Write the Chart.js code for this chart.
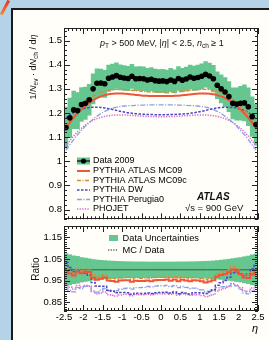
<!DOCTYPE html>
<html>
<head>
<meta charset="utf-8">
<script src="https://cdn.jsdelivr.net/npm/chart.js@4.4.1/dist/chart.umd.min.js"></script>
<style>
body { margin: 0; background: #b5d3e6; }
#wrap { position: relative; width: 269px; height: 340px; overflow: hidden; background: #b5d3e6; font-family: "Liberation Sans", Arial, sans-serif; }
#panel { position: absolute; left: 11px; top: 8px; width: 270px; height: 340px; background: #fffef9; border-left: 2px solid #1b1b1b; border-top: 2px solid #1b1b1b; }
#streak { position: absolute; left: -3px; top: 6px; width: 16px; height: 3px; background: linear-gradient(90deg, #f08a30, #e8302a); transform: rotate(-62deg); }
canvas { position: absolute; left: 0; }
.t { position: absolute; white-space: nowrap; color: #111; line-height: 12px; }
.t sub { font-size: 6.5px; vertical-align: -2px; line-height: 0; }
</style>
</head>
<body>
<div id="wrap">
  <div id="panel"></div>
  <div id="streak"></div>
  <canvas id="mainChart" width="269" height="227" style="top:0"></canvas>
  <canvas id="ratioChart" width="269" height="140" style="top:200px"></canvas>
  <div class="t" style="left:-17px;top:61px;width:100px;text-align:center;font-size:9px;transform:rotate(-90deg);">1/<i>N</i><sub>ev</sub> · d<i>N</i><sub>ch</sub> / d<i>η</i></div>
  <div class="t" style="left:-14px;top:263px;width:100px;text-align:center;font-size:10px;transform:rotate(-90deg);">Ratio</div>
  <div class="t" style="left:100px;top:37px;font-size:9px;"><i>p</i><sub>T</sub> &gt; 500 MeV, |<i>η</i>| &lt; 2.5, <i>n</i><sub>ch</sub> ≥ 1</div>
  <div class="t" style="left:197px;top:191px;font-size:10px;font-weight:bold;font-style:italic;">ATLAS</div>
  <div class="t" style="left:185px;top:202px;font-size:9.5px;">√s = 900 GeV</div>
</div>
<script>
// eta bin centres (bin width 0.1)
const etaBins = [-2.45,-2.35,-2.25,-2.15,-2.05,-1.95,-1.85,-1.75,-1.65,-1.55,
  -1.45,-1.35,-1.25,-1.15,-1.05,-0.95,-0.85,-0.75,-0.65,-0.55,
  -0.45,-0.35,-0.25,-0.15,-0.05,0.05,0.15,0.25,0.35,0.45,
  0.55,0.65,0.75,0.85,0.95,1.05,1.15,1.25,1.35,1.45,
  1.55,1.65,1.75,1.85,1.95,2.05,2.15,2.25,2.35,2.45];

const etaTicks = [-2.5,-2,-1.5,-1,-0.5,0,0.5,1,1.5,2,2.5];
const mainTicks = [0.8,0.9,1,1.1,1.2,1.3,1.4,1.5];
const ratioTicks = [0.85,0.9,0.95,1,1.05,1.1,1.15];

const data2009 = [1.140,1.180,1.213,1.210,1.235,1.240,1.255,1.300,1.323,1.324,
  1.321,1.344,1.349,1.355,1.348,1.345,1.343,1.352,1.342,1.343,
  1.342,1.337,1.340,1.334,1.332,1.333,1.330,1.337,1.331,1.343,
  1.336,1.341,1.349,1.344,1.347,1.352,1.360,1.353,1.342,1.315,
  1.300,1.287,1.268,1.240,1.237,1.240,1.242,1.226,1.185,1.152];

// total uncertainty on the data (absolute)
const dataErr = [0.085,0.082,0.078,0.075,0.070,0.067,0.064,0.062,0.060,0.058,
  0.056,0.055,0.054,0.053,0.052,0.051,0.050,0.050,0.049,0.049,
  0.049,0.048,0.048,0.048,0.048,0.048,0.048,0.048,0.048,0.049,
  0.049,0.049,0.050,0.050,0.051,0.052,0.053,0.054,0.055,0.056,
  0.058,0.060,0.062,0.064,0.067,0.070,0.075,0.078,0.082,0.085];

const pythiaMC09 = [1.135,1.160,1.181,1.199,1.215,1.229,1.242,1.253,1.262,1.269,
  1.274,1.278,1.280,1.281,1.281,1.280,1.279,1.277,1.275,1.274,
  1.272,1.271,1.270,1.270,1.270,1.270,1.270,1.270,1.271,1.272,
  1.274,1.275,1.277,1.279,1.280,1.281,1.281,1.280,1.278,1.274,
  1.269,1.262,1.253,1.242,1.229,1.214,1.198,1.180,1.159,1.136];

const pythiaMC09c = [1.145,1.172,1.195,1.214,1.231,1.246,1.259,1.270,1.279,1.286,
  1.291,1.295,1.297,1.298,1.298,1.297,1.296,1.294,1.292,1.291,
  1.289,1.288,1.287,1.287,1.287,1.287,1.287,1.287,1.288,1.289,
  1.291,1.292,1.294,1.296,1.297,1.298,1.298,1.297,1.295,1.291,
  1.286,1.279,1.270,1.259,1.246,1.230,1.213,1.194,1.171,1.146];

const pythiaDW = [1.178,1.192,1.202,1.210,1.216,1.220,1.223,1.224,1.224,1.223,
  1.221,1.218,1.215,1.211,1.207,1.204,1.201,1.199,1.197,1.196,
  1.195,1.194,1.194,1.193,1.193,1.193,1.193,1.194,1.194,1.195,
  1.196,1.197,1.199,1.201,1.204,1.207,1.211,1.215,1.218,1.221,
  1.223,1.224,1.224,1.223,1.220,1.216,1.210,1.202,1.191,1.176];

const pythiaPerugia0 = [1.045,1.068,1.090,1.110,1.128,1.145,1.160,1.174,1.187,1.198,
  1.207,1.214,1.220,1.224,1.227,1.229,1.230,1.231,1.232,1.233,
  1.233,1.234,1.234,1.234,1.234,1.234,1.234,1.234,1.234,1.233,
  1.233,1.232,1.231,1.230,1.229,1.227,1.224,1.220,1.214,1.207,
  1.198,1.187,1.174,1.160,1.145,1.128,1.110,1.090,1.068,1.046];

const phojet = [1.062,1.085,1.105,1.122,1.137,1.150,1.161,1.170,1.177,1.182,
  1.186,1.189,1.191,1.192,1.192,1.192,1.191,1.190,1.189,1.188,
  1.187,1.186,1.186,1.185,1.185,1.185,1.185,1.186,1.186,1.187,
  1.188,1.189,1.190,1.191,1.192,1.192,1.192,1.191,1.189,1.186,
  1.182,1.177,1.170,1.161,1.150,1.137,1.122,1.105,1.085,1.063];

const mcLabels = ['PYTHIA ATLAS MC09', 'PYTHIA ATLAS MC09c', 'PYTHIA DW', 'PYTHIA Perugia0', 'PHOJET'];
const mcValues = [pythiaMC09, pythiaMC09c, pythiaDW, pythiaPerugia0, phojet];
const unityLine = [1, 1];

const mcStyles = [
  { color: '#f0553a', width: 2, dash: [] },
  { color: '#d68a34', width: 1.4, dash: [4, 1.5, 1, 1.5] },
  { color: '#4b45c6', width: 1.5, dash: [2.5, 1.5] },
  { color: '#8d9fe4', width: 1.3, dash: [5, 1.5, 1.2, 1.5] },
  { color: '#e06acb', width: 1.5, dash: [1.3, 1.3] }
];
const bandColor = '#66c690';
const fontName = '"Liberation Sans", Arial, sans-serif';

// frame + inward ROOT-style ticks on all four sides
const frameTicks = {
  id: 'frameTicks',
  afterDatasetsDraw(chart, args, opts) {
    const { ctx, chartArea: a, scales: { x, y } } = chart;
    ctx.save();
    ctx.strokeStyle = '#222';
    ctx.lineWidth = 1;
    ctx.setLineDash([]);
    ctx.strokeRect(Math.round(a.left) + 0.5, Math.round(a.top) + 0.5, Math.round(a.right - a.left) - 1, Math.round(a.bottom - a.top) - 1);
    ctx.beginPath();
    const nx = Math.round((x.max - x.min) / 0.1);
    for (let k = 0; k <= nx; k++) {
      const v = x.min + k * 0.1;
      const major = etaTicks.some(t => Math.abs(t - v) < 1e-6);
      const len = major ? 6 : 3;
      const px = Math.round(x.getPixelForValue(v)) + 0.5;
      ctx.moveTo(px, a.bottom); ctx.lineTo(px, a.bottom - len);
      ctx.moveTo(px, a.top); ctx.lineTo(px, a.top + len);
    }
    const step = opts.yMinor;
    const start = Math.ceil(y.min / step - 1e-6);
    const end = Math.floor(y.max / step + 1e-6);
    for (let k = start; k <= end; k++) {
      const v = k * step;
      const major = opts.majorY.some(t => Math.abs(t - v) < 1e-6);
      const len = major ? 6 : 3;
      const py = Math.round(y.getPixelForValue(v)) + 0.5;
      ctx.moveTo(a.left, py); ctx.lineTo(a.left + len, py);
      ctx.moveTo(a.right, py); ctx.lineTo(a.right - len, py);
    }
    ctx.stroke();
    ctx.restore();
  }
};

const mainLegend = {
  id: 'mainLegend',
  afterDraw(chart) {
    const ctx = chart.ctx;
    const x0 = 77, x1 = 90, tx = 93;
    const rows = [161, 171, 180.5, 190, 199.5, 209];
    ctx.save();
    ctx.font = '9px ' + fontName;
    ctx.textBaseline = 'middle';
    ctx.fillStyle = bandColor;
    ctx.fillRect(x0, rows[0] - 3.5, x1 - x0, 7);
    ctx.strokeStyle = '#000';
    ctx.lineWidth = 1.2;
    ctx.beginPath(); ctx.moveTo(x0, rows[0]); ctx.lineTo(x1, rows[0]); ctx.stroke();
    ctx.fillStyle = '#000';
    ctx.beginPath(); ctx.arc((x0 + x1) / 2, rows[0], 2.6, 0, Math.PI * 2); ctx.fill();
    ctx.fillText('Data 2009', tx, rows[0]);
    mcLabels.forEach((lab, i) => {
      const s = mcStyles[i];
      ctx.strokeStyle = s.color;
      ctx.lineWidth = s.width;
      ctx.setLineDash(s.dash);
      ctx.beginPath(); ctx.moveTo(x0, rows[i + 1]); ctx.lineTo(x1, rows[i + 1]); ctx.stroke();
      ctx.setLineDash([]);
      ctx.fillStyle = '#000';
      ctx.fillText(lab, tx, rows[i + 1]);
    });
    ctx.restore();
  }
};

const ratioLegend = {
  id: 'ratioLegend',
  afterDraw(chart) {
    const ctx = chart.ctx;
    const top = 200;
    ctx.save();
    ctx.font = '9.3px ' + fontName;
    ctx.textBaseline = 'middle';
    ctx.fillStyle = bandColor;
    ctx.fillRect(109, 238 - top - 3, 9, 6);
    ctx.strokeStyle = '#222';
    ctx.lineWidth = 1.2;
    ctx.setLineDash([1.3, 1.3]);
    ctx.beginPath(); ctx.moveTo(108, 250 - top); ctx.lineTo(118, 250 - top); ctx.stroke();
    ctx.setLineDash([]);
    ctx.fillStyle = '#000';
    ctx.fillText('Data Uncertainties', 122.5, 238 - top);
    ctx.fillText('MC / Data', 122.5, 250 - top);
    ctx.restore();
  }
};

const tickFont = { family: fontName, size: 9.5 };

// main panel
const mainDatasets = [
  {
    type: 'scatter', label: 'Data 2009',
    data: etaBins.map((x, i) => ({ x, y: data2009[i] })),
    pointRadius: 2.8, pointBackgroundColor: '#000', pointBorderWidth: 0
  }
];
mcLabels.forEach((lab, i) => {
  mainDatasets.push({
    type: 'line', label: lab,
    data: etaBins.map((x, k) => ({ x, y: mcValues[i][k] })),
    borderColor: mcStyles[i].color, borderWidth: mcStyles[i].width, borderDash: mcStyles[i].dash,
    pointRadius: 0, cubicInterpolationMode: 'monotone', fill: false
  });
});
mainDatasets.push({
  type: 'bar', label: 'band',
  data: etaBins.map((x, i) => ({ x, y: [data2009[i] - dataErr[i], data2009[i] + dataErr[i]] })),
  backgroundColor: bandColor, borderWidth: 0, barPercentage: 1, categoryPercentage: 1
});

new Chart(document.getElementById('mainChart'), {
  type: 'scatter',
  data: { datasets: mainDatasets },
  options: {
    responsive: false, animation: false, devicePixelRatio: 1,
    layout: { padding: { top: 28, right: 11, left: 0, bottom: 0 } },
    plugins: {
      legend: { display: false }, tooltip: { enabled: false },
      frameTicks: { yMinor: 0.02, majorY: mainTicks }
    },
    scales: {
      x: {
        type: 'linear', min: -2.5, max: 2.5, offset: false,
        grid: { display: false, drawTicks: false }, border: { display: false },
        ticks: { display: false },
        afterFit: s => { s.height = 0; }
      },
      y: {
        min: 0.76, max: 1.552,
        grid: { display: false, drawTicks: false }, border: { display: false },
        afterBuildTicks: s => { s.ticks = mainTicks.map(v => ({ value: v })); },
        ticks: { padding: 2, color: '#000', font: tickFont, callback: v => String(v) },
        afterFit: s => { s.width = 64; }
      }
    }
  },
  plugins: [frameTicks, mainLegend]
});

// ratio panel
const ratioDatasets = [];
mcLabels.forEach((lab, i) => {
  ratioDatasets.push({
    type: 'line', label: lab,
    data: etaBins.map((x, k) => ({ x, y: mcValues[i][k] / data2009[k] })),
    borderColor: mcStyles[i].color, borderWidth: mcStyles[i].width, borderDash: mcStyles[i].dash,
    pointRadius: 0, stepped: 'middle', fill: false
  });
});
ratioDatasets.push({
  type: 'line', label: 'unity',
  data: [{ x: -2.5, y: unityLine[0] }, { x: 2.5, y: unityLine[1] }],
  borderColor: '#3c5a4c', borderWidth: 1, pointRadius: 0
});
ratioDatasets.push({
  type: 'bar', label: 'Data Uncertainties',
  data: etaBins.map((x, i) => ({ x, y: [1 - dataErr[i] / data2009[i], 1 + dataErr[i] / data2009[i]] })),
  backgroundColor: bandColor, borderWidth: 0, barPercentage: 1, categoryPercentage: 1
});

new Chart(document.getElementById('ratioChart'), {
  type: 'scatter',
  data: { datasets: ratioDatasets },
  options: {
    responsive: false, animation: false, devicePixelRatio: 1,
    layout: { padding: { top: 26, right: 11, left: 0, bottom: 0 } },
    plugins: {
      legend: { display: false }, tooltip: { enabled: false },
      frameTicks: { yMinor: 0.01, majorY: ratioTicks }
    },
    scales: {
      x: {
        type: 'linear', min: -2.5, max: 2.5, offset: false,
        grid: { display: false, drawTicks: false }, border: { display: false },
        afterBuildTicks: s => { s.ticks = etaTicks.map(v => ({ value: v })); },
        ticks: { padding: 1, color: '#000', font: tickFont, autoSkip: false, maxRotation: 0, callback: v => String(v) },
        title: { display: true, text: 'η', align: 'end', color: '#000', font: { family: fontName, size: 11, style: 'italic' }, padding: { top: 0, bottom: 4 } },
        afterFit: s => { s.height = 29; }
      },
      y: {
        min: 0.81, max: 1.202,
        grid: { display: false, drawTicks: false }, border: { display: false },
        afterBuildTicks: s => { s.ticks = ratioTicks.map(v => ({ value: v })); },
        ticks: { padding: 2, color: '#000', font: tickFont, callback: v => String(v) },
        afterFit: s => { s.width = 64; }
      }
    }
  },
  plugins: [frameTicks, ratioLegend]
});
</script>
</body>
</html>
